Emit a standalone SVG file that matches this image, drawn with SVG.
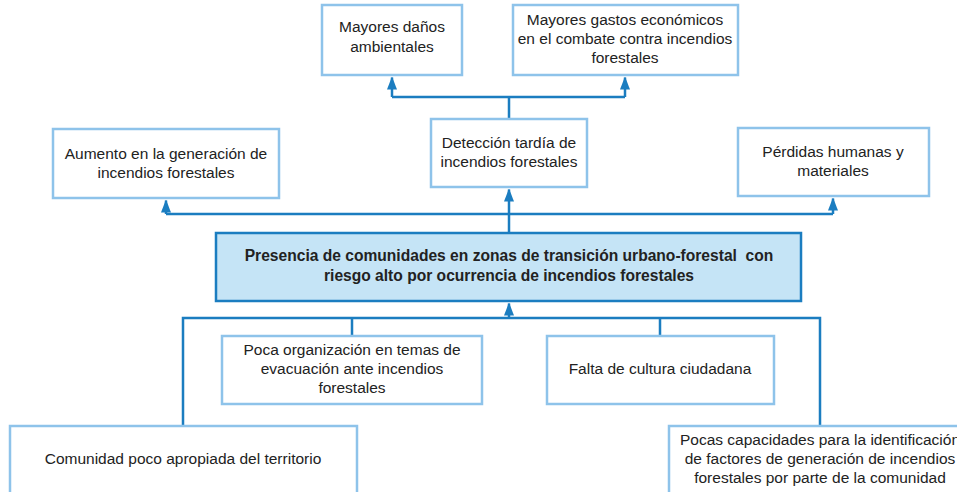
<svg xmlns="http://www.w3.org/2000/svg" width="957" height="492" viewBox="0 0 957 492">
<defs>
<style>
.box{fill:#ffffff;stroke:#8ec3ea;stroke-width:2.5}
.core{fill:#c5e4f6;stroke:#1b7dc0;stroke-width:2.5}
.t{font-family:"Liberation Sans",Arial,sans-serif;font-size:15.5px;fill:#222;text-anchor:middle}
.b{font-weight:bold;font-size:15.6px}
.c{fill:none;stroke:#1b7dc0;stroke-width:2.5}
</style>
<marker id="ah" viewBox="0 0 13 10" refX="12" refY="5" markerWidth="13" markerHeight="10" orient="auto" markerUnits="userSpaceOnUse">
<path d="M0,0 L13,5 L0,10 z" fill="#1b7dc0"/>
</marker>
</defs>
<rect width="957" height="492" fill="#ffffff"/>
<g id="connectors">
<path class="c" d="M509,119 V97 M392,97 H625"/>
<path class="c" d="M392,97 V77.5" marker-end="url(#ah)"/>
<path class="c" d="M625,97 V77.5" marker-end="url(#ah)"/>
<path class="c" d="M509,232 V189.5" marker-end="url(#ah)"/>
<path class="c" d="M166,214 H833"/>
<path class="c" d="M166,214 V200.5" marker-end="url(#ah)"/>
<path class="c" d="M833,214 V198.5" marker-end="url(#ah)"/>
<path class="c" d="M183,425 V318 H820 V425 M352,318 V336 M660,318 V336"/>
<path class="c" d="M509,318 V303.5" marker-end="url(#ah)"/>
</g>
<g id="n-danos">
<rect class="box" x="322" y="5" width="140" height="70"/>
<text class="t" x="392" y="32">Mayores daños</text>
<text class="t" x="392" y="52">ambientales</text>
</g>
<g id="n-gastos">
<rect class="box" x="513" y="5" width="225" height="70"/>
<text class="t" x="625" y="25">Mayores gastos económicos</text>
<text class="t" x="625" y="44">en el combate contra incendios</text>
<text class="t" x="625" y="63">forestales</text>
</g>
<g id="n-deteccion">
<rect class="box" x="431" y="119" width="156" height="68"/>
<text class="t" x="509" y="148">Detección tardía de</text>
<text class="t" x="509" y="167">incendios forestales</text>
</g>
<g id="n-aumento">
<rect class="box" x="53" y="129" width="226" height="69"/>
<text class="t" x="166" y="159">Aumento en la generación de</text>
<text class="t" x="166" y="178">incendios forestales</text>
</g>
<g id="n-perdidas">
<rect class="box" x="738" y="128" width="191" height="68"/>
<text class="t" x="833" y="157">Pérdidas humanas y</text>
<text class="t" x="833" y="176">materiales</text>
</g>
<g id="n-central">
<rect class="core" x="216" y="233" width="585" height="68"/>
<text class="t b" x="509" y="261" xml:space="preserve">Presencia de comunidades en zonas de transición urbano-forestal  con</text>
<text class="t b" x="509" y="281">riesgo alto por ocurrencia de incendios forestales</text>
</g>
<g id="n-organizacion">
<rect class="box" x="222" y="336" width="260" height="68"/>
<text class="t" x="352" y="355">Poca organización en temas de</text>
<text class="t" x="352" y="374">evacuación ante incendios</text>
<text class="t" x="352" y="393">forestales</text>
</g>
<g id="n-cultura">
<rect class="box" x="547" y="336" width="227" height="68"/>
<text class="t" x="660" y="374">Falta de cultura ciudadana</text>
</g>
<g id="n-comunidad">
<rect class="box" x="10" y="426" width="347" height="80"/>
<text class="t" x="183" y="464">Comunidad poco apropiada del territorio</text>
</g>
<g id="n-capacidades">
<rect class="box" x="669" y="426" width="310" height="80"/>
<text class="t" x="820" y="445">Pocas capacidades para la identificación</text>
<text class="t" x="820" y="464">de factores de generación de incendios</text>
<text class="t" x="820" y="483">forestales por parte de la comunidad</text>
</g>
</svg>
